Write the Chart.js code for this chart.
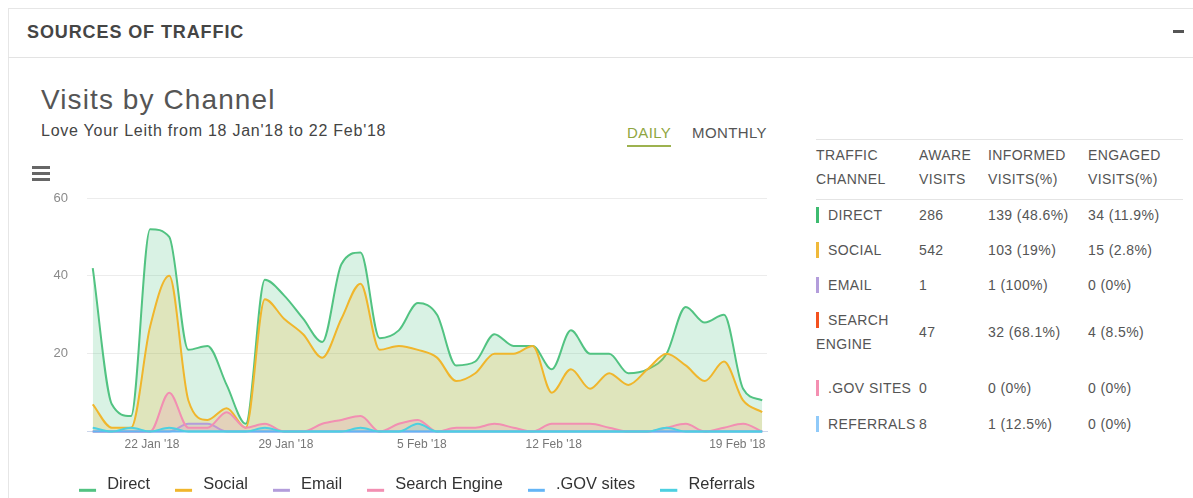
<!DOCTYPE html>
<html>
<head>
<meta charset="utf-8">
<title>Sources of Traffic</title>
<script src="https://cdn.jsdelivr.net/npm/chart.js@4.4.1/dist/chart.umd.min.js"></script>
<style>
  body { margin: 0; background: #fff; font-family: "Liberation Sans", Arial, sans-serif; overflow: hidden; }
  .abs { position: absolute; white-space: nowrap; }
  .hline { position: absolute; height: 1px; background: #e3e3e3; }
  .panel-title { left: 27px; top: 22px; font-size: 18px; line-height: 20px; font-weight: bold; color: #454545; letter-spacing: 0.9px; }
  .title { left: 41px; top: 84px; font-size: 28px; line-height: 32px; color: #555; letter-spacing: 1.1px; }
  .subtitle { left: 41px; top: 122px; font-size: 16px; line-height: 18px; color: #444; letter-spacing: 0.75px; }
  .tab { top: 124px; font-size: 15px; line-height: 18px; color: #555; letter-spacing: 0.4px; }
  .tab.on { color: #8fa63f; }
  .menu-bar { position: absolute; left: 32px; width: 18px; height: 3px; background: #666; }
  .cell { font-size: 14px; line-height: 16px; color: #555; letter-spacing: 0.4px; }
  .marker { position: absolute; width: 3px; height: 16px; }
  #chartBox { position: absolute; left: 20px; top: 150px; width: 770px; height: 351px; }
</style>
</head>
<body>
<div class="hline" style="left:8px; top:8px; width:1185px; background:#e6e6e6;"></div>
<div class="abs" style="left:8px; top:8px; width:1px; height:490px; background:#e6e6e6;"></div>
<div class="hline" style="left:8px; top:57px; width:1185px;"></div>
<div class="abs panel-title">SOURCES OF TRAFFIC</div>
<div class="abs" style="left:1173px; top:30px; width:11px; height:3px; background:#555;"></div>

<div class="abs title">Visits by Channel</div>
<div class="abs subtitle">Love Your Leith from 18 Jan'18 to 22 Feb'18</div>
<div class="abs tab on" style="left:627px;">DAILY</div>
<div class="abs" style="left:627px; top:145px; width:44px; height:2px; background:#9db24f;"></div>
<div class="abs tab" style="left:692px;">MONTHLY</div>

<div class="menu-bar" style="top:166px;"></div>
<div class="menu-bar" style="top:172px;"></div>
<div class="menu-bar" style="top:178px;"></div>

<div id="chartBox"><canvas id="visits-chart"></canvas></div>

<div id="table"></div>

<script>
// daily visits, 18 Jan '18 .. 22 Feb '18
const days = ['18 Jan', '19 Jan', '20 Jan', '21 Jan', '22 Jan', '23 Jan', '24 Jan', '25 Jan', '26 Jan',
  '27 Jan', '28 Jan', '29 Jan', '30 Jan', '31 Jan', '1 Feb', '2 Feb', '3 Feb', '4 Feb', '5 Feb',
  '6 Feb', '7 Feb', '8 Feb', '9 Feb', '10 Feb', '11 Feb', '12 Feb', '13 Feb', '14 Feb', '15 Feb',
  '16 Feb', '17 Feb', '18 Feb', '19 Feb', '20 Feb', '21 Feb', '22 Feb'];

const direct = [42, 7, 4, 52, 50, 21, 22, 12, 2, 39, 35, 29, 23, 43, 46, 24, 26, 33, 30,
  17, 18, 25, 22, 22, 16, 26, 20, 20, 15, 16, 20, 32, 28, 30, 11, 8];
const social = [7, 1, 1, 27, 40, 8, 3, 6, 1, 34, 29, 25, 19, 29, 38, 21, 22, 21, 19,
  13, 15, 20, 20, 22, 10, 16, 11, 15, 12, 16, 20, 17, 13, 18, 8, 5];
const email = [0, 0, 0, 0, 0, 2, 2, 0, 0, 0, 0, 0, 0, 0, 0, 0, 0, 0, 0,
  0, 0, 0, 0, 0, 0, 0, 0, 0, 0, 0, 0, 0, 0, 0, 0, 0];
const searchEngine = [0, 0, 0, 0, 10, 1, 1, 5, 1, 2, 0, 0, 2, 3, 4, 0, 2, 3, 0,
  1, 1, 2, 1, 0, 2, 2, 2, 1, 0, 0, 1, 2, 0, 1, 2, 0];
const govSites = [0, 0, 0, 0, 0, 0, 0, 0, 0, 0, 0, 0, 0, 0, 0, 0, 0, 0, 0,
  0, 0, 0, 0, 0, 0, 0, 0, 0, 0, 0, 0, 0, 0, 0, 0, 0];
const referrals = [1, 0, 1, 0, 1, 0, 0, 0, 0, 1, 0, 0, 0, 0, 1, 0, 0, 2, 0,
  0, 0, 0, 0, 0, 0, 0, 0, 0, 0, 0, 1, 0, 0, 0, 0, 0];

const seriesNames = ['Direct', 'Social', 'Email', 'Search Engine', '.GOV sites', 'Referrals'];
const seriesColors = ['#52c382', '#f0b62c', '#b39ddb', '#f28fb2', '#64b5f6', '#4dd0e1'];

// x axis labels sit where the original axis put them (in day units from 18 Jan)
const xTickAt = [3.1, 10.1, 17.2, 24.1, 33.7];
const xTickLabels = ["22 Jan '18", "29 Jan '18", "5 Feb '18", "12 Feb '18", "19 Feb '18"];
const yTicks = [0, 20, 40, 60];

// right hand table
const tableHead = [['TRAFFIC', 'CHANNEL'], ['AWARE', 'VISITS'], ['INFORMED', 'VISITS(%)'], ['ENGAGED', 'VISITS(%)']];
const channels = ['DIRECT', 'SOCIAL', 'EMAIL', 'SEARCH ENGINE', '.GOV SITES', 'REFERRALS'];
const channelColors = ['#3dbb70', '#f0b93a', '#b39ddb', '#f4511e', '#f48fb1', '#90caf9'];
const awareVisits = ['286', '542', '1', '47', '0', '8'];
const informedVisits = ['139 (48.6%)', '103 (19%)', '1 (100%)', '32 (68.1%)', '0 (0%)', '1 (12.5%)'];
const engagedVisits = ['34 (11.9%)', '15 (2.8%)', '0 (0%)', '4 (8.5%)', '0 (0%)', '0 (0%)'];

const hexToRgba = (hex, a) => {
  const n = parseInt(hex.slice(1), 16);
  return `rgba(${(n >> 16) & 255}, ${(n >> 8) & 255}, ${n & 255}, ${a})`;
};

// short flat line used as legend symbol, sitting low like the original
const legendSymbol = color => {
  const c = document.createElement('canvas');
  c.width = 20;
  c.height = 16;
  const g = c.getContext('2d');
  g.fillStyle = color;
  g.fillRect(0, 12, 17, 3);
  return c;
};
const legendSymbols = seriesColors.map(legendSymbol);

const allSeries = [direct, social, email, searchEngine, govSites, referrals];

const datasets = allSeries.map((values, i) => ({
  label: seriesNames[i],
  data: values.map((v, d) => ({ x: d, y: v })),
  borderColor: seriesColors[i],
  backgroundColor: hexToRgba(seriesColors[i], 0.22),
  borderWidth: 2,
  fill: 'origin',
  cubicInterpolationMode: 'monotone',
  pointRadius: 0,
  clip: 3,
  order: allSeries.length - i   // later series drawn on top, like the original
}));

// centre the legend under the plot rather than under the whole canvas,
// keep the box wide enough so the single row does not wrap
const legendUnderPlot = {
  id: 'legendUnderPlot',
  beforeDraw(chart) {
    const lg = chart.legend;
    if (!lg) return;
    const area = chart.chartArea;
    const h = lg.bottom - lg.top;
    lg.left = area.left - 50;
    lg.right = area.right + 30;
    lg.top = area.bottom + 20;
    lg.bottom = lg.top + h;
  }
};

Chart.defaults.font.family = '"Liberation Sans", Arial, sans-serif';

const ctx = document.getElementById('visits-chart');
new Chart(ctx, {
  type: 'line',
  data: { datasets },
  plugins: [legendUnderPlot],
  options: {
    responsive: true,
    maintainAspectRatio: false,
    animation: false,
    layout: { padding: { left: 0, right: 23, top: 48, bottom: 0 } },
    scales: {
      x: {
        type: 'linear',
        min: -0.3,
        max: 35.25,
        afterBuildTicks: scale => {
          scale.ticks = xTickAt.map(v => ({ value: v }));
        },
        afterFit: scale => { scale.height = 18; },
        ticks: {
          autoSkip: false,
          maxRotation: 0,
          padding: 6,
          color: '#777',
          font: { size: 12 },
          callback: (value, index) => xTickLabels[index]
        },
        grid: { display: false, drawTicks: false },
        border: { color: '#ccd6eb', width: 1 }
      },
      y: {
        min: 0,
        max: 60,
        afterBuildTicks: scale => {
          scale.ticks = yTicks.map(v => ({ value: v }));
        },
        afterFit: scale => { scale.width = 67; },
        ticks: {
          padding: 19,
          color: '#8a8a8a',
          font: { size: 13 },
          callback: value => (value === 0 ? '' : value)
        },
        grid: {
          drawTicks: false,
          color: c => (c.tick && c.tick.value === 0 ? '#ccd6eb' : '#ececec')
        },
        border: { display: false }
      }
    },
    plugins: {
      tooltip: { enabled: false },
      legend: {
        position: 'bottom',
        labels: {
          color: '#333',
          font: { size: 16.4 },
          usePointStyle: true,
          pointStyleWidth: 20,
          boxHeight: 3,
          padding: 25,
          sort: (a, b) => a.datasetIndex - b.datasetIndex,
          generateLabels: chart => {
            const items = Chart.defaults.plugins.legend.labels.generateLabels(chart);
            return items.map(item => ({ ...item, pointStyle: legendSymbols[item.datasetIndex], lineWidth: 0 }));
          }
        }
      }
    }
  }
});

// table, built from the arrays above
const table = document.getElementById('table');
const addText = (text, left, top) => {
  const el = document.createElement('div');
  el.className = 'abs cell';
  el.style.left = left + 'px';
  el.style.top = top + 'px';
  el.textContent = text;
  table.appendChild(el);
};
const addLine = top => {
  const el = document.createElement('div');
  el.className = 'hline';
  el.style.cssText = `left:816px; top:${top}px; width:367px; background:#e4e4e4;`;
  table.appendChild(el);
};

const colX = [816, 919, 988, 1088];
addLine(139);
addLine(199);
tableHead.forEach((h, c) => {
  addText(h[0], colX[c], 147);
  addText(h[1], colX[c], 171);
});

const rowY = [215, 250, 285, 332, 388, 424];
channels.forEach((name, r) => {
  const y = rowY[r];
  const marker = document.createElement('div');
  marker.className = 'marker';
  marker.style.background = channelColors[r];
  if (name === 'SEARCH ENGINE') {
    marker.style.cssText += `left:816px; top:${y - 20}px;`;
    addText('SEARCH', 828, y - 20);
    addText('ENGINE', 816, y + 4);
  } else {
    marker.style.cssText += `left:816px; top:${y - 8}px;`;
    addText(name, 828, y - 8);
  }
  table.appendChild(marker);
  addText(awareVisits[r], colX[1], y - 8);
  addText(informedVisits[r], colX[2], y - 8);
  addText(engagedVisits[r], colX[3], y - 8);
});
</script>
</body>
</html>
